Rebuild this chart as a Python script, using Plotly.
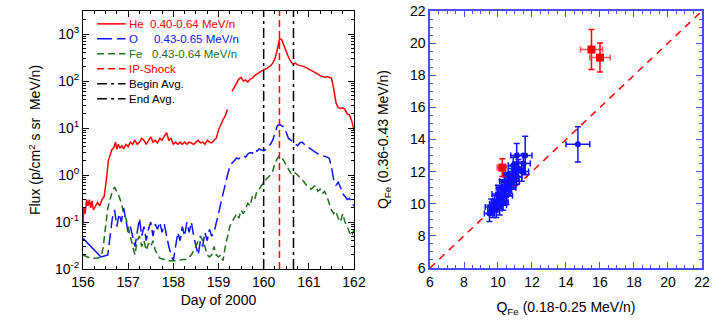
import plotly.graph_objects as go

# ---------------- Left panel data ----------------
he_day = [156.00,156.02,156.05,156.08,156.11,156.14,156.17,156.20,156.23,156.27,156.32,156.37,156.42,156.47,
          156.50,156.53,156.56,156.60,156.64,156.68,156.72,156.75,156.78,156.82,156.86,156.90,156.95,
          157.00,157.05,157.10,157.15,157.20,157.25,157.30,157.35,157.40,157.45,157.50,157.55,157.60,157.65,
          157.70,157.75,157.80,157.85,157.90,157.95,158.00,158.05,158.10,158.15,158.20,158.25,158.30,158.35,
          158.40,158.45,158.50,158.55,158.60,158.65,158.70,158.75,158.80,158.85,158.90,158.95,159.00,159.05,
          159.10,159.15,159.20,159.25,
          159.30,159.35,159.40,159.45,159.50,159.55,159.60,159.65,159.70,159.75,159.80,159.85,159.90,159.95,
          160.00,160.05,160.10,160.15,160.20,160.25,160.30,160.35,160.40,160.45,160.50,160.55,160.60,160.65,
          160.70,160.75,160.80,160.85,160.90,160.95,161.00,161.05,161.10,161.15,161.20,161.25,161.30,161.35,
          161.40,161.45,161.50,161.55,161.60,161.65,161.70,161.75,161.80,161.85,161.90,161.95,162.00]
he_flux = [0.09,0.20,0.15,0.30,0.22,0.30,0.20,0.28,0.18,0.22,0.26,0.22,0.30,0.35,
           0.55,1.0,2.0,2.8,3.5,3.8,5.0,3.5,4.5,3.8,4.2,3.6,4.5,
           4.0,5.0,4.5,5.5,4.5,5.0,6.0,5.5,4.5,5.5,6.5,5.0,5.5,4.8,
           6.0,5.5,6.5,8.0,5.5,6.0,4.5,5.0,4.5,5.0,4.5,5.0,4.5,5.0,
           4.8,4.5,5.0,5.5,4.8,5.0,4.5,5.5,5.0,4.8,5.5,6.0,9.0,12,
           15,18,25,None,
           60,75,90,110,120,100,105,95,110,115,130,140,150,160,
           175,180,195,210,240,300,450,800,750,550,400,320,260,230,
           240,220,215,210,200,190,180,165,155,150,140,130,125,120,
           125,122,115,70,35,27,26,27,25,20,19,14,9]

o_day_solid = [156.00, 156.40]
o_flux_solid = [0.045, 0.018]
o_day = [156.40,156.55,156.60,156.65,156.70,156.75,156.80,156.85,156.90,156.95,
         157.00,157.05,157.10,157.15,157.20,157.25,157.30,157.35,157.40,157.45,157.50,157.55,157.60,157.65,
         157.70,157.75,157.80,157.85,157.90,157.95,158.00,158.05,158.10,158.15,158.20,158.25,158.30,158.35,
         158.40,158.45,158.50,158.55,158.60,158.65,158.70,158.75,158.80,158.85,158.90,158.95,159.00,159.05,
         159.10,159.15,159.20,159.25,159.30,159.35,159.40,159.45,159.50,159.55,159.60,159.65,159.70,159.75,
         159.80,159.85,159.90,159.95,160.00,160.05,160.10,160.15,160.20,160.25,160.30,160.35,160.40,160.45,
         160.50,160.55,160.60,160.65,160.70,160.75,160.80,160.85,160.90,160.95,161.00,161.05,161.10,161.15,
         161.20,161.25,161.30,161.35,161.40,161.45,161.50,161.55,161.60,161.65,161.70,161.75,161.80,161.85,
         161.90,161.95,162.00]
o_flux = [0.018,0.02,0.05,0.12,0.18,0.08,0.15,0.10,0.20,0.10,
          0.06,0.08,0.05,0.03,0.06,0.12,0.05,0.08,0.04,0.07,0.10,0.05,0.09,0.07,
          0.10,0.06,0.09,0.05,0.03,0.02,0.015,0.03,0.06,0.04,0.08,0.05,0.10,0.06,
          0.10,0.05,0.03,0.02,0.04,0.03,0.06,0.04,0.07,0.05,0.06,0.09,0.15,0.25,
          0.4,0.7,1.0,1.5,1.8,2.0,2.3,2.2,2.5,2.6,2.4,2.8,3.0,2.9,
          3.5,3.2,3.6,3.4,3.3,3.5,4.0,4.5,5.5,8.0,11,12,11,10.5,
          8,6,5.5,5,4.5,4.2,4.8,5,4.5,4,3.8,3.5,3.2,3.0,
          2.8,2.6,2.5,2.5,2.4,2.3,1.5,0.8,0.6,0.7,0.55,0.4,0.35,0.3,
          0.32,0.25,0.22]

fe_day = [156.00,156.10,156.20,156.30,156.40,156.45,156.50,156.55,156.60,156.65,156.70,156.75,156.80,156.85,
          156.90,156.95,157.00,157.05,157.10,157.15,157.20,157.25,157.30,157.35,157.40,157.45,157.50,157.55,
          157.60,157.65,157.70,157.80,157.90,158.00,158.10,158.20,158.30,158.40,158.50,158.55,158.60,158.65,
          158.70,158.75,158.80,158.85,158.90,158.95,159.00,159.05,159.10,159.15,159.20,159.25,159.30,159.35,
          159.40,159.45,159.50,159.55,159.60,159.65,159.70,159.75,159.80,159.85,159.90,159.95,160.00,160.05,
          160.10,160.15,160.20,160.25,160.30,160.35,160.40,160.45,160.50,160.55,160.60,160.65,160.70,160.75,
          160.80,160.85,160.90,160.95,161.00,161.05,161.10,161.15,161.20,161.25,161.30,161.35,161.40,161.45,
          161.50,161.55,161.60,161.65,161.70,161.75,161.80,161.85,161.90,161.95,162.00]
fe_flux = [0.02,0.018,0.017,0.017,0.018,0.03,0.08,0.2,0.3,0.45,0.55,0.45,0.35,0.25,
           0.15,0.12,0.08,0.05,0.03,0.02,0.04,0.05,0.03,0.04,0.025,0.035,0.03,0.04,
           0.025,0.02,0.017,0.016,0.015,0.015,0.015,0.016,0.016,0.02,0.03,0.04,0.05,0.04,
           0.03,0.02,0.018,0.02,0.03,0.02,0.018,0.02,0.015,0.03,0.05,0.08,0.1,0.12,
           0.15,0.12,0.18,0.15,0.2,0.25,0.22,0.35,0.3,0.45,0.5,0.6,0.7,0.8,
           0.9,1.0,1.2,1.8,2.2,2.6,2.3,2.0,1.6,1.3,1.1,1.0,1.1,1.0,
           0.9,0.8,0.7,0.6,0.55,0.5,0.55,0.6,0.45,0.5,0.4,0.45,0.35,0.25,
           0.18,0.15,0.17,0.12,0.1,0.15,0.1,0.08,0.06,0.05,0.07]

shock_day = 160.35
begin_day = 160.00
end_day = 160.66

y_tickvals = [1e-2, 1e-1, 1e0, 1e1, 1e2, 1e3]
y_ticktext = ["10<sup>-2</sup>", "10<sup>-1</sup>", "10<sup>0</sup>", "10<sup>1</sup>", "10<sup>2</sup>", "10<sup>3</sup>"]
x_tickvals = [156, 157, 158, 159, 160, 161, 162]

# ---------------- Right panel data ----------------
blue_q1 = [9.5, 9.6, 9.7, 9.8, 9.9, 10.0, 10.1, 10.2, 10.0, 10.3, 10.4, 10.2, 10.5, 10.6, 10.4, 10.7, 10.8,
           10.6, 10.9, 11.0, 11.1, 11.2, 10.9, 11.4, 11.5, 11.1, 11.6, 14.7]
blue_q2 = [9.4, 9.8, 9.6, 10.0, 9.7, 10.2, 9.9, 10.4, 10.6, 10.1, 10.8, 11.0, 10.5, 11.2, 11.4, 11.0, 11.6,
           11.8, 11.4, 12.0, 11.7, 12.2, 12.4, 12.0, 12.5, 13.0, 13.0, 13.7]
blue_e1 = [0.3, 0.35, 0.3, 0.3, 0.35, 0.3, 0.4, 0.3, 0.35, 0.3, 0.4, 0.3, 0.35, 0.4, 0.3, 0.35, 0.4,
           0.3, 0.35, 0.4, 0.3, 0.35, 0.3, 0.4, 0.4, 0.35, 0.4, 0.7]
blue_e2 = [0.5, 0.5, 0.45, 0.5, 0.55, 0.5, 0.6, 0.5, 0.55, 0.5, 0.6, 0.5, 0.55, 0.6, 0.55, 0.5, 0.6,
           0.55, 0.5, 0.6, 0.5, 0.55, 0.5, 0.6, 0.6, 0.75, 1.2, 1.1]
red_q1 = [15.5, 16.0, 10.25]
red_q2 = [19.6, 19.1, 12.25]
red_e1 = [0.65, 0.6, 0.3]
red_e2 = [1.25, 0.9, 0.55]
diag = [6, 22]
q_ticks = [6, 8, 10, 12, 14, 16, 18, 20, 22]

# ---------------- Styles ----------------
RED = "#ff0000"
BLUE = "#1010ff"
GREEN = "#1e6e1e"
FONT = "Liberation Sans, Arial, sans-serif"
FRAME_BLUE = "#4a4aff"

fig = go.Figure()

fig.add_trace(go.Scatter(x=he_day, y=he_flux, mode="lines", line=dict(color=RED, width=1.5),
                         connectgaps=False, showlegend=False, xaxis="x", yaxis="y"))
fig.add_trace(go.Scatter(x=o_day_solid, y=o_flux_solid, mode="lines", line=dict(color=BLUE, width=1.5),
                         showlegend=False, xaxis="x", yaxis="y"))
fig.add_trace(go.Scatter(x=o_day, y=o_flux, mode="lines", line=dict(color=BLUE, width=1.5, dash="12px,5px"),
                         showlegend=False, xaxis="x", yaxis="y"))
fig.add_trace(go.Scatter(x=fe_day, y=fe_flux, mode="lines", line=dict(color=GREEN, width=1.5, dash="7px,4px"),
                         showlegend=False, xaxis="x", yaxis="y"))

DASHDOT = "10px,4px,3px,4px"
for d, col, dash in [(begin_day, "black", DASHDOT), (end_day, "black", DASHDOT), (shock_day, RED, "7px,4px")]:
    fig.add_shape(type="line", xref="x", yref="y domain", x0=d, x1=d, y0=0, y1=1,
                  line=dict(color=col, width=1.5, dash=dash))

# custom legend (left panel)
legend_items = [
    ("He\u00a0\u00a00.40-0.64 MeV/n", RED, "solid"),
    ("O\u00a0\u00a0\u00a0\u00a0\u00a00.43-0.65 MeV/n", BLUE, "15px,5px"),
    ("Fe\u00a0\u00a0\u00a00.43-0.64 MeV/n", GREEN, "7px,4px"),
    ("IP-Shock", RED, "7px,4px"),
    ("Begin Avg.", "black", DASHDOT),
    ("End Avg.", "black", DASHDOT),
]
for i, (lab, col, dash) in enumerate(legend_items):
    yy = 0.950 - i * 0.0581
    fig.add_shape(type="line", xref="x domain", yref="y domain", x0=0.052, x1=0.157, y0=yy, y1=yy,
                  line=dict(color=col, width=1.5, dash=dash))
    fig.add_annotation(xref="x domain", yref="y domain", x=0.163, y=yy, text=lab, showarrow=False,
                       xanchor="left", yanchor="middle", font=dict(family=FONT, size=11.5, color=col))

# right panel
fig.add_trace(go.Scatter(x=diag, y=diag, mode="lines", line=dict(color=RED, width=1.5, dash="7px,6px"),
                         showlegend=False, xaxis="x2", yaxis="y2"))
fig.add_trace(go.Scatter(x=blue_q1, y=blue_q2, mode="markers",
                         marker=dict(color=BLUE, size=6, symbol="circle"),
                         error_x=dict(type="data", array=blue_e1, color=BLUE, thickness=1.5, width=3),
                         error_y=dict(type="data", array=blue_e2, color=BLUE, thickness=1.5, width=3),
                         showlegend=False, xaxis="x2", yaxis="y2"))
fig.add_trace(go.Scatter(x=red_q1, y=red_q2, mode="markers",
                         marker=dict(color=RED, size=8, symbol="square"),
                         error_x=dict(type="data", array=red_e1, color="#ff5050", thickness=1.5, width=3),
                         error_y=dict(type="data", array=red_e2, color=RED, thickness=1.5, width=3),
                         showlegend=False, xaxis="x2", yaxis="y2"))

tickfont = dict(family=FONT, size=14, color="black")
titlefont = dict(family=FONT, size=14, color="black")

fig.update_layout(
    width=721, height=323,
    margin=dict(l=0, r=0, t=0, b=0),
    paper_bgcolor="white", plot_bgcolor="white",
    showlegend=False,
    font=dict(family=FONT, size=14, color="black"),
    xaxis=dict(domain=[0.1151, 0.491], anchor="y", range=[156, 162], tickvals=x_tickvals,
               ticks="inside", ticklen=6, tickwidth=1, tickcolor="black",
               minor=dict(ticks="inside", ticklen=3, dtick=0.25, tickcolor="black"),
               showline=True, linecolor="black", linewidth=1, mirror="allticks",
               showgrid=False, zeroline=False, tickfont=tickfont,
               title=dict(text="Day of 2000", font=titlefont, standoff=6), automargin=False),
    yaxis=dict(domain=[0.1672, 0.966], anchor="x", type="log", range=[-2, 3.49],
               tickvals=y_tickvals, ticktext=y_ticktext,
               ticks="inside", ticklen=6, tickwidth=1, tickcolor="black",
               minor=dict(ticks="inside", ticklen=3, dtick="D1", tickcolor="black"),
               showline=True, linecolor="black", linewidth=1, mirror="allticks",
               showgrid=False, zeroline=False, tickfont=tickfont,
               title=dict(text="Flux (p/cm<sup>2</sup> s sr\u00a0\u00a0MeV/n)", font=titlefont, standoff=10),
               automargin=False),
    xaxis2=dict(domain=[0.5964, 0.9736], anchor="y2", range=[6, 22], tickvals=q_ticks,
                ticks="inside", ticklen=6, tickwidth=1, tickcolor=FRAME_BLUE,
                minor=dict(ticks="inside", ticklen=3, dtick=0.5, tickcolor=FRAME_BLUE),
                showline=True, linecolor=FRAME_BLUE, linewidth=1.5, mirror="allticks",
                showgrid=False, zeroline=False, tickfont=tickfont,
                title=dict(text="Q<sub>Fe</sub> (0.18-0.25 MeV/n)", font=titlefont, standoff=14),
                automargin=False),
    yaxis2=dict(domain=[0.1703, 0.966], anchor="x2", range=[6, 22], tickvals=q_ticks,
                ticks="inside", ticklen=6, tickwidth=1, tickcolor=FRAME_BLUE,
                minor=dict(ticks="inside", ticklen=3, dtick=0.5, tickcolor=FRAME_BLUE),
                showline=True, linecolor=FRAME_BLUE, linewidth=1.5, mirror="allticks",
                showgrid=False, zeroline=False, tickfont=tickfont,
                title=dict(text="Q<sub>Fe</sub> (0.36-0.43 MeV/n)", font=titlefont, standoff=18),
                automargin=False),
)

fig.write_html("out.html")
